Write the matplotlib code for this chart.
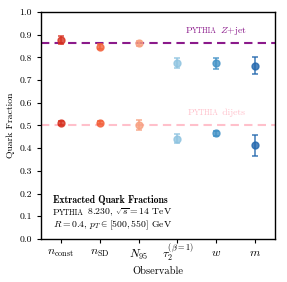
import matplotlib
matplotlib.use("Agg")
import matplotlib.pyplot as plt
from matplotlib.transforms import ScaledTranslation

plt.rcParams['font.family'] = 'cmr10'
plt.rcParams['mathtext.fontset'] = 'cm'
plt.rcParams['axes.unicode_minus'] = False
plt.rcParams['axes.formatter.use_mathtext'] = True

observables = [r'$n_{\rm const}$', r'$n_{\rm SD}$', r'$N_{95}$',
               r'$\tau_2^{(\beta=1)}$', r'$w$', r'$m$']
z_values = [0.878, 0.847, 0.862, 0.776, 0.775, 0.764]
z_errors = [0.018, 0.010, 0.010, 0.022, 0.024, 0.036]
dijet_values = [0.511, 0.513, 0.502, 0.442, 0.465, 0.412]
dijet_errors = [0.010, 0.008, 0.020, 0.020, 0.012, 0.045]
colors = ['#d7301f', '#f3603a', '#f7a07f', '#8ec3e0', '#4191c6', '#2166ad']
z_truth = 0.863
dijet_truth = 0.500

fig = plt.figure(figsize=(2.87, 2.82), dpi=100)
ax = fig.add_axes([0.143, 0.1525, 0.815, 0.805])

ax.axhline(z_truth, color='#8b1a8b', ls='--', lw=1.5, dashes=(4, 2.5), zorder=1)
ax.axhline(dijet_truth, color='#ffc0cb', ls='--', lw=1.5, dashes=(4, 2.5), zorder=1)

for i, c in enumerate(colors):
    for v, e in ((z_values[i], z_errors[i]), (dijet_values[i], dijet_errors[i])):
        ax.errorbar(i, v, yerr=e, fmt='o', color=c, ms=5, capsize=2.5,
                    elinewidth=1.2, capthick=1.2, alpha=0.8, zorder=3)

ax.set_xlim(-0.5, len(observables) - 0.5)
ax.set_ylim(0.0, 1.0)
ax.set_xticks(range(len(observables)))
ax.set_xticklabels(observables, fontsize=8.5)
ax.set_yticks([i / 10 for i in range(11)])
ax.set_yticklabels([f'{i/10:.1f}' for i in range(11)], fontsize=7)
ax.tick_params(length=3, width=0.8)
ax.tick_params(axis='x', pad=3.5)
ax.set_ylabel('Quark Fraction', fontsize=7, labelpad=3)
ax.set_xlabel('Observable', fontsize=7.5, labelpad=2)
for s in ax.spines.values():
    s.set_linewidth(1.0)

tau_label = ax.get_xticklabels()[3]
tau_label.set_transform(tau_label.get_transform() +
                        ScaledTranslation(0, 4 / 72, fig.dpi_scale_trans))

fig.canvas.draw()
renderer = fig.canvas.get_renderer()


def smallcaps(x, y, rest, color, size, trans, ha='left'):
    """Draw 'PYTHIA' in small caps followed by rest."""
    parts = [('P', size), ('YTHIA', size * 0.78), (rest, size)]
    widths = []
    for s, fs in parts:
        t = fig.text(0, 0, s, fontsize=fs)
        widths.append(t.get_window_extent(renderer).width)
        t.remove()
    total = sum(widths)
    xd, yd = trans.transform((x, y))
    if ha == 'center':
        xd -= total / 2
    for (s, fs), w in zip(parts, widths):
        fig.text(xd / fig.dpi / fig.get_figwidth(), yd / fig.dpi / fig.get_figheight(),
                 s, fontsize=fs, color=color, va='baseline')
        xd += w


smallcaps(4.0, 0.908, r' $Z$+jet', '#8b1a8b', 7, ax.transData, ha='center')
smallcaps(4.0, 0.545, ' dijets', '#ffc0cb', 7, ax.transData, ha='center')

ax.text(0.05, 0.158, 'Extracted Quark Fractions', fontsize=7, family='cmb10',
        transform=ax.transAxes)
smallcaps(0.05, 0.104, r' 8.230, $\sqrt{s}=14$ TeV', 'black', 7, ax.transAxes)
ax.text(0.05, 0.05, r'$R=0.4$, $p_T\in[500,550]$ GeV', fontsize=7,
        transform=ax.transAxes)

fig.savefig('out.png', dpi=100)
